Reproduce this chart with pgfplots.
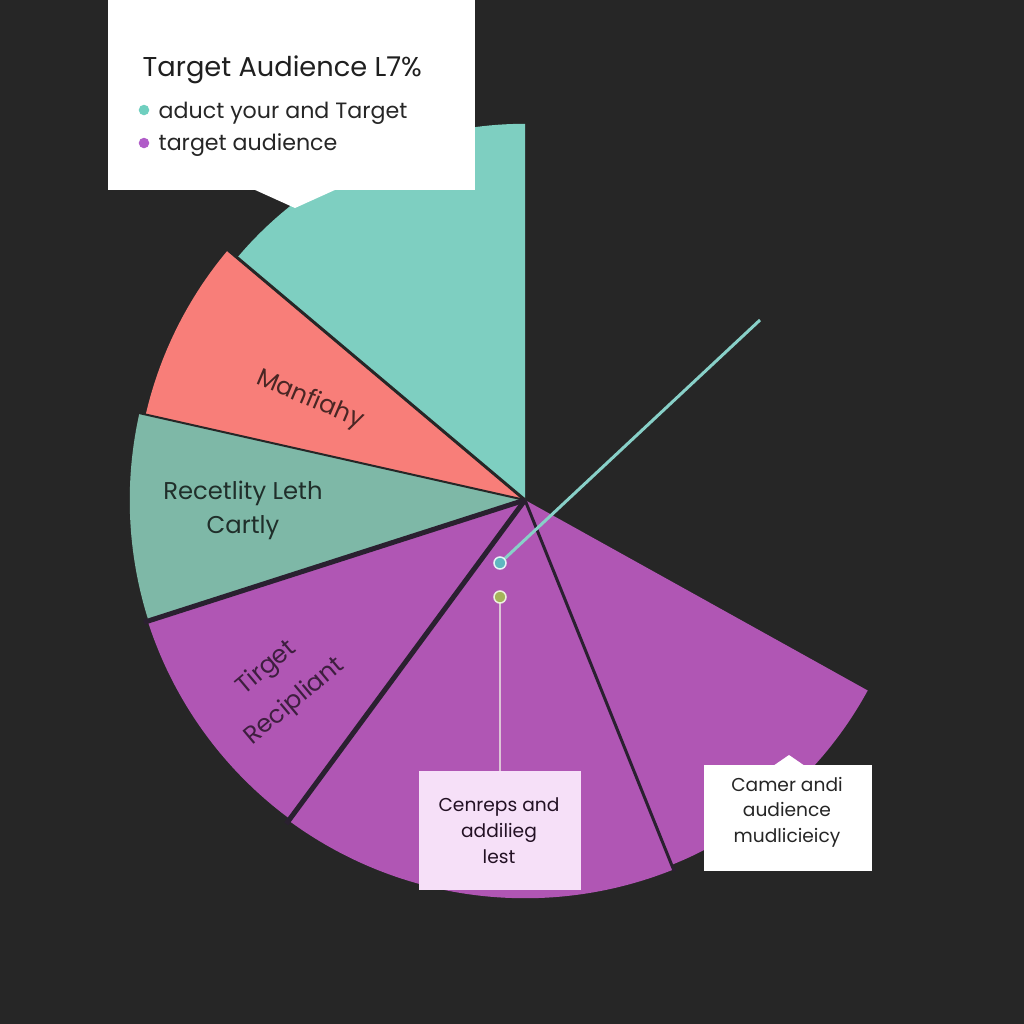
\documentclass[border=0pt]{standalone}
\usepackage{pgfplots}
\pgfplotsset{compat=1.18}
\usepackage{fontspec}
\setmainfont{Poppins}
\definecolor{bg}{HTML}{262626}
\definecolor{sliceteal}{HTML}{7ECFC1}
\definecolor{slicered}{HTML}{F87E79}
\definecolor{slicegray}{HTML}{7EB8A7}
\definecolor{slicepurple}{HTML}{B056B4}
\definecolor{divider}{HTML}{2A2030}
\definecolor{boxpink}{HTML}{F6E0F8}
\definecolor{legteal}{HTML}{6FCFBF}
\definecolor{legpurple}{HTML}{B05CC8}
\definecolor{leader}{HTML}{88D0C8}
\definecolor{dotblue}{HTML}{5FB8C0}
\definecolor{dotgreen}{HTML}{A5B35A}
\definecolor{vline}{HTML}{DCC4D6}
\begin{document}
\begin{tikzpicture}
\begin{axis}[
  x=0.01cm, y=0.01cm,
  xmin=0, xmax=1024, ymin=0, ymax=1024,
  y dir=reverse,
  hide axis, clip=false, scale only axis,
]
% background
\fill[bg] (axis cs:0,0) rectangle (axis cs:1024,1024);
% pie slices: start angle, end angle (degrees), radius (px/100 -> cm)
\fill[sliceteal]   (axis cs:525,500) -- ++(90:3.76cm)    arc[start angle=90,    end angle=139.9, radius=3.76cm] -- cycle;
\fill[slicered]    (axis cs:525,500) -- ++(139.9:3.88cm) arc[start angle=139.9, end angle=167.3, radius=3.93cm] -- cycle;
\fill[slicegray]   (axis cs:525,500) -- ++(167.3:3.95cm) arc[start angle=167.3, end angle=197.8, radius=3.96cm] -- cycle;
\fill[slicepurple] (axis cs:525,500) -- ++(197.8:3.96cm) arc[start angle=197.8, end angle=233.6, radius=3.96cm] -- cycle;
\fill[slicepurple] (axis cs:525,500) -- ++(233.6:3.98cm) arc[start angle=233.6, end angle=291.9, radius=3.98cm] -- cycle;
\fill[slicepurple] (axis cs:525,500) -- ++(291.9:3.93cm) arc[start angle=291.9, end angle=331.4, radius=3.88cm] -- cycle;
% dividers
\draw[bg, line width=0.03cm] (axis cs:525,500) -- ++(139.9:3.95cm);
\draw[bg, line width=0.02cm] (axis cs:525,500) -- ++(167.3:4.0cm);
\draw[divider, line width=0.05cm] (axis cs:525,500) -- ++(197.8:4.0cm);
\draw[divider, line width=0.05cm] (axis cs:525,500) -- ++(233.6:4.02cm);
\draw[divider, line width=0.03cm] (axis cs:525,500) -- ++(291.9:4.0cm);
% leader lines
\addplot[leader, line width=0.03cm] coordinates {(500,563) (760,320)};
\addplot[vline, line width=0.02cm] coordinates {(500,597) (500,771)};
\addplot[only marks, mark=*, mark size=0.06cm, mark options={fill=dotblue, draw=white!85!dotblue, line width=0.015cm}] coordinates {(500,563)};
\addplot[only marks, mark=*, mark size=0.06cm, mark options={fill=dotgreen, draw=white!80!dotgreen, line width=0.015cm}] coordinates {(500,597)};
% slice labels
\node[font=\fontsize{7.0}{8.5}\selectfont, text=slicered!30!black, rotate=-23] at (axis cs:310,400) {Manfiahy};
\node[font=\fontsize{6.9}{8.5}\selectfont, text=slicegray!25!black] at (axis cs:243,493) {Recetlity Leth};
\node[font=\fontsize{6.9}{8.5}\selectfont, text=slicegray!25!black] at (axis cs:243,528) {Cartly};
\node[align=center, font=\fontsize{7.0}{12.4}\selectfont, text=slicepurple!35!black, rotate=40] at (axis cs:281,685) {Tirget\\Recipliant};
% legend box
\fill[white] (axis cs:108,0) rectangle (axis cs:475,190);
\fill[white] (axis cs:253,189) -- (axis cs:295,208) -- (axis cs:337,189) -- cycle;
\node[anchor=base west, inner sep=0pt, font=\fontsize{7.75}{9}\selectfont, text=black!88] at (axis cs:142,76) {Target Audience L7\%};
\addplot[only marks, mark=*, mark size=0.045cm, mark options={fill=legteal, draw=legteal}] coordinates {(144,110)};
\addplot[only marks, mark=*, mark size=0.045cm, mark options={fill=legpurple, draw=legpurple}] coordinates {(144,143)};
\node[anchor=base west, inner sep=0pt, font=\fontsize{6.3}{8}\selectfont, text=black!85] at (axis cs:158,118) {aduct your and Target};
\node[anchor=base west, inner sep=0pt, font=\fontsize{6.3}{8}\selectfont, text=black!85] at (axis cs:158,150) {target audience};
% label boxes
\fill[boxpink] (axis cs:419,771) rectangle (axis cs:581,890);
\node[align=center, font=\fontsize{5.3}{7.4}\selectfont, text=black!80!slicepurple] at (axis cs:499,831) {Cenreps and\\addilieg\\lest};
\fill[white] (axis cs:704,765) rectangle (axis cs:872,871);
\fill[white] (axis cs:773,766) -- (axis cs:789,755) -- (axis cs:805,766) -- cycle;
\node[align=center, font=\fontsize{5.3}{7.2}\selectfont, text=black!85] at (axis cs:787,812) {Camer andi\\audience\\mudlicieicy};
\end{axis}
\end{tikzpicture}
\end{document}
